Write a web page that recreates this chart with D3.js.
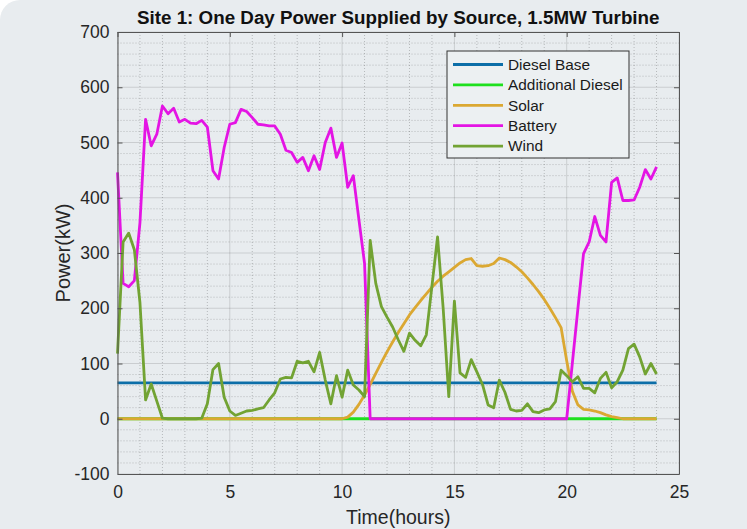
<!DOCTYPE html>
<html>
<head>
<meta charset="utf-8">
<script src="https://cdn.jsdelivr.net/npm/d3@7"></script>
<style>
  body { margin: 0; background: #ffffff; }
  svg { display: block; font-family: "Liberation Sans", Arial, Helvetica, sans-serif; }
</style>
</head>
<body>
<div id="chart"></div>
<script>
// time axis, 15 minute steps from 0 to 24 hours
var hours = [
  0, 0.25, 0.5, 0.75, 1, 1.25, 1.5, 1.75, 2, 2.25, 2.5, 2.75,
  3, 3.25, 3.5, 3.75, 4, 4.25, 4.5, 4.75, 5, 5.25, 5.5, 5.75,
  6, 6.25, 6.5, 6.75, 7, 7.25, 7.5, 7.75, 8, 8.25, 8.5, 8.75,
  9, 9.25, 9.5, 9.75, 10, 10.25, 10.5, 10.75, 11, 11.25, 11.5, 11.75,
  12, 12.25, 12.5, 12.75, 13, 13.25, 13.5, 13.75, 14, 14.25, 14.5, 14.75,
  15, 15.25, 15.5, 15.75, 16, 16.25, 16.5, 16.75, 17, 17.25, 17.5, 17.75,
  18, 18.25, 18.5, 18.75, 19, 19.25, 19.5, 19.75, 20, 20.25, 20.5, 20.75,
  21, 21.25, 21.5, 21.75, 22, 22.25, 22.5, 22.75, 23, 23.25, 23.5, 23.75,
  24
];

var dieselBase = [
  65, 65, 65, 65, 65, 65, 65, 65, 65, 65, 65, 65,
  65, 65, 65, 65, 65, 65, 65, 65, 65, 65, 65, 65,
  65, 65, 65, 65, 65, 65, 65, 65, 65, 65, 65, 65,
  65, 65, 65, 65, 65, 65, 65, 65, 65, 65, 65, 65,
  65, 65, 65, 65, 65, 65, 65, 65, 65, 65, 65, 65,
  65, 65, 65, 65, 65, 65, 65, 65, 65, 65, 65, 65,
  65, 65, 65, 65, 65, 65, 65, 65, 65, 65, 65, 65,
  65, 65, 65, 65, 65, 65, 65, 65, 65, 65, 65, 65,
  65
];

var additionalDiesel = [
  0, 0, 0, 0, 0, 0, 0, 0, 0, 0, 0, 0,
  0, 0, 0, 0, 0, 0, 0, 0, 0, 0, 0, 0,
  0, 0, 0, 0, 0, 0, 0, 0, 0, 0, 0, 0,
  0, 0, 0, 0, 0, 0, 0, 0, 0, 0, 0, 0,
  0, 0, 0, 0, 0, 0, 0, 0, 0, 0, 0, 0,
  0, 0, 0, 0, 0, 0, 0, 0, 0, 0, 0, 0,
  0, 0, 0, 0, 0, 0, 0, 0, 0, 0, 0, 0,
  0, 0, 0, 0, 0, 0, 0, 0, 0, 0, 0, 0,
  0
];

var solar = [
  0, 0, 0, 0, 0, 0, 0, 0, 0, 0, 0, 0,
  0, 0, 0, 0, 0, 0, 0, 0, 0, 0, 0, 0,
  0, 0, 0, 0, 0, 0, 0, 0, 0, 0, 0, 0,
  0, 0, 0, 0, 0, 3, 12, 26, 43, 62, 82, 102,
  121, 139, 156, 172, 188, 201, 214, 226, 238, 249, 258, 266,
  274, 282, 288, 290, 277, 276, 277, 281, 291, 288, 283, 275,
  266, 255, 243, 230, 216, 200, 183, 165, 105, 50, 25, 17,
  16, 14, 11, 7, 4, 2, 0, 0, 0, 0, 0, 0,
  0
];

var battery = [
  446, 245, 239, 250, 355, 542, 494, 515, 566, 552, 562, 537,
  542, 535, 534, 540, 528, 449, 434, 491, 533, 536, 560, 556,
  545, 533, 532, 530, 530, 515, 486, 482, 464, 473, 449, 476,
  451, 500, 526, 473, 499, 419, 440, 360, 281, 0, 0, 0,
  0, 0, 0, 0, 0, 0, 0, 0, 0, 0, 0, 0,
  0, 0, 0, 0, 0, 0, 0, 0, 0, 0, 0, 0,
  0, 0, 0, 0, 0, 0, 0, 0, 0, 100, 200, 299,
  320, 366, 332, 320, 428, 436, 395, 395, 396, 419, 451, 434,
  456
];

var wind = [
  118, 320, 336, 306, 210, 34, 63, 32, 1, 0, 0, 0,
  0, 0, 0, 1, 27, 89, 100, 39, 14, 6, 10, 14,
  15, 18, 20, 34, 47, 72, 75, 74, 104, 101, 104, 85,
  120, 70, 27, 78, 39, 88, 61, 52, 40, 323, 245, 203,
  184, 166, 143, 122, 155, 142, 132, 152, 240, 329, 200, 40,
  213, 83, 75, 107, 85, 62, 25, 20, 70, 48, 17, 14,
  15, 27, 13, 11, 16, 18, 31, 88, 78, 67, 76, 55,
  55, 47, 73, 84, 56, 67, 88, 127, 135, 112, 81, 100,
  81
];

var seriesNames = ["Diesel Base", "Additional Diesel", "Solar", "Battery", "Wind"];
var seriesValues = [dieselBase, additionalDiesel, solar, battery, wind];
var seriesColors = ["#0c6ea8", "#1ee01e", "#dba832", "#e414e4", "#72a333"];

var xTicks = [0, 5, 10, 15, 20, 25];
var yTicks = [-100, 0, 100, 200, 300, 400, 500, 600, 700];

var W = 747, H = 529;
var bg = "#e8ecef";

var x = d3.scaleLinear().domain([0, 25]).range([117.5, 679]);
var y = d3.scaleLinear().domain([-100, 700]).range([474, 32]);

var svg = d3.select("#chart").append("svg")
    .attr("width", W)
    .attr("height", H);

// panel background (rounded top-left like the screenshot)
svg.append("rect")
    .attr("x", 0).attr("y", 0)
    .attr("width", W + 40).attr("height", H + 40)
    .attr("rx", 20)
    .attr("fill", bg);

var x0 = x.range()[0], x1 = x.range()[1];
var y0 = y.range()[1], y1 = y.range()[0];

// minor grid (dotted)
var minorX = d3.range(0, 25.01, 1).filter(function(d) { return d % 5 !== 0; });
var minorY = d3.range(-100, 700.1, 20).filter(function(d) { return d % 100 !== 0; });

var grid = svg.append("g");
grid.selectAll(".mx").data(minorX).enter().append("line")
    .attr("x1", function(d) { return x(d); }).attr("x2", function(d) { return x(d); })
    .attr("y1", y0).attr("y2", y1)
    .attr("stroke", "#000").attr("stroke-opacity", 0.22)
    .attr("stroke-dasharray", "1,2");
grid.selectAll(".my").data(minorY).enter().append("line")
    .attr("y1", function(d) { return y(d); }).attr("y2", function(d) { return y(d); })
    .attr("x1", x0).attr("x2", x1)
    .attr("stroke", "#000").attr("stroke-opacity", 0.22)
    .attr("stroke-dasharray", "1,2");

// major grid
grid.selectAll(".gx").data(xTicks).enter().append("line")
    .attr("x1", function(d) { return x(d); }).attr("x2", function(d) { return x(d); })
    .attr("y1", y0).attr("y2", y1)
    .attr("stroke", "#000").attr("stroke-opacity", 0.13);
grid.selectAll(".gy").data(yTicks).enter().append("line")
    .attr("y1", function(d) { return y(d); }).attr("y2", function(d) { return y(d); })
    .attr("x1", x0).attr("x2", x1)
    .attr("stroke", "#000").attr("stroke-opacity", 0.13);

// the lines
var line = d3.line()
    .x(function(d, i) { return x(hours[i]); })
    .y(function(d) { return y(d); });

svg.append("g").selectAll("path")
    .data(seriesValues)
    .enter().append("path")
    .attr("d", line)
    .attr("fill", "none")
    .attr("stroke", function(d, i) { return seriesColors[i]; })
    .attr("stroke-width", 2.8)
    .attr("stroke-linejoin", "round");

// axes with inward ticks on all four sides
var axisColor = "#555";
var textColor = "#262626";
var plain = function(d) { return String(d); };

var clip = svg.append("clipPath").attr("id", "xlabclip");
clip.append("rect").attr("x", 0).attr("y", 0).attr("width", 689).attr("height", H);

var gxb = svg.append("g")
    .attr("transform", "translate(0," + y1 + ")")
    .attr("clip-path", "url(#xlabclip)")
    .call(d3.axisBottom(x).tickValues(xTicks).tickFormat(plain)
        .tickSizeInner(-5).tickSizeOuter(0).tickPadding(12));
var gyl = svg.append("g")
    .attr("transform", "translate(" + x0 + ",0)")
    .call(d3.axisLeft(y).tickValues(yTicks).tickFormat(plain)
        .tickSizeInner(-5).tickSizeOuter(0).tickPadding(8));
var gxt = svg.append("g")
    .attr("transform", "translate(0," + y0 + ")")
    .call(d3.axisTop(x).tickValues(xTicks).tickSizeInner(-5).tickSizeOuter(0).tickFormat(""));
var gyr = svg.append("g")
    .attr("transform", "translate(" + x1 + ",0)")
    .call(d3.axisRight(y).tickValues(yTicks).tickSizeInner(-5).tickSizeOuter(0).tickFormat(""));

[gxb, gyl, gxt, gyr].forEach(function(g) {
    g.select(".domain").attr("stroke", axisColor);
    g.selectAll(".tick line").attr("stroke", axisColor);
    g.selectAll(".tick text")
        .attr("fill", textColor)
        .style("font-size", "17.5px")
        .style("font-family", "'Liberation Sans', Arial, sans-serif");
});

// title
svg.append("text")
    .attr("x", (x0 + x1) / 2)
    .attr("y", 24)
    .attr("text-anchor", "middle")
    .style("font-size", "18.8px")
    .style("font-weight", "bold")
    .attr("fill", "#111")
    .text("Site 1: One Day Power Supplied by Source, 1.5MW Turbine");

// axis labels
svg.append("text")
    .attr("x", (x0 + x1) / 2)
    .attr("y", 524)
    .attr("text-anchor", "middle")
    .style("font-size", "19.5px")
    .attr("fill", textColor)
    .text("Time(hours)");

svg.append("text")
    .attr("transform", "translate(70," + ((y0 + y1) / 2) + ") rotate(-90)")
    .attr("text-anchor", "middle")
    .style("font-size", "20px")
    .attr("fill", textColor)
    .text("Power(kW)");

// legend
var legend = svg.append("g").attr("transform", "translate(447,51)");
legend.append("rect")
    .attr("width", 182).attr("height", 107)
    .attr("fill", "#ecf0f2")
    .attr("stroke", "#333")
    .attr("stroke-width", 1);

var items = legend.selectAll(".item")
    .data(seriesNames)
    .enter().append("g")
    .attr("transform", function(d, i) { return "translate(0," + (13.5 + i * 20.4) + ")"; });
items.append("line")
    .attr("x1", 6).attr("x2", 56)
    .attr("stroke", function(d, i) { return seriesColors[i]; })
    .attr("stroke-width", 2.8);
items.append("text")
    .attr("x", 61)
    .attr("dy", "0.35em")
    .style("font-size", "15.4px")
    .attr("fill", "#1a1a1a")
    .text(function(d) { return d; });
</script>
</body>
</html>
